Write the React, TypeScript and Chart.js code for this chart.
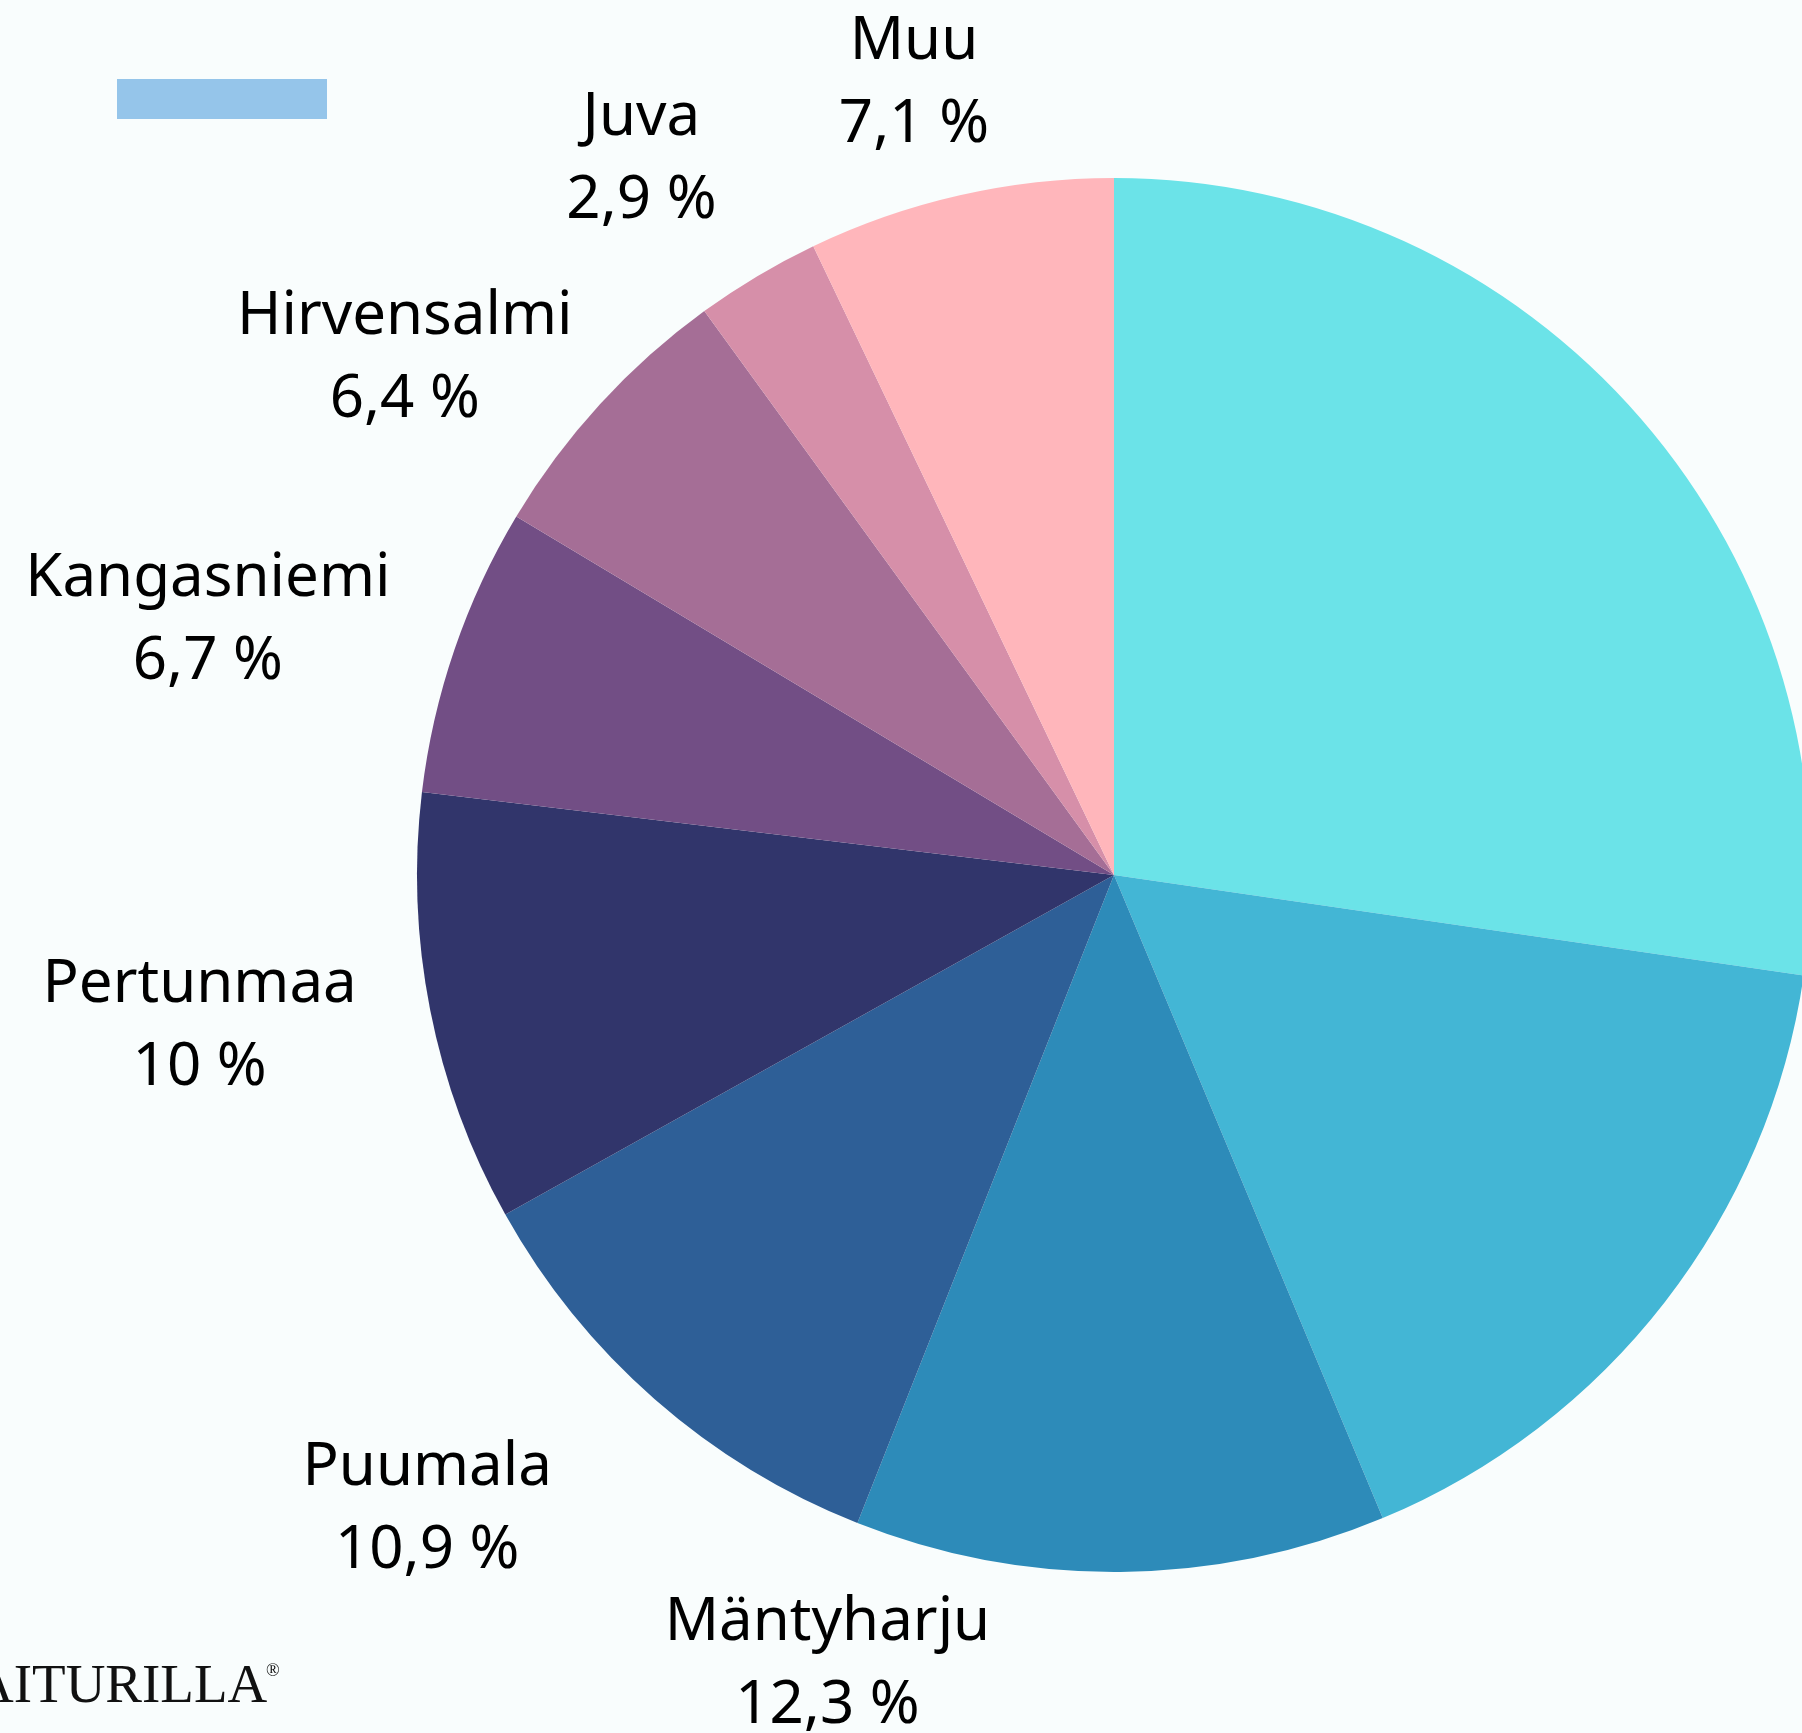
import React, { useEffect, useRef } from "react";
import { Chart, registerables } from "chart.js";

Chart.register(...registerables);

// ---- data ----
const categories = ["", "", "Mäntyharju", "Puumala", "Pertunmaa", "Kangasniemi", "Hirvensalmi", "Juva", "Muu"];
const shares = [27.3, 16.4, 12.3, 10.9, 10, 6.7, 6.4, 2.9, 7.1];
const sliceColors = ["#6be3e8", "#43b6d5", "#2d8bb9", "#2e5f97", "#31356b", "#724e85", "#a56e96", "#d68fa9", "#ffb6bb"];

// ---- label layout (angle shift in degrees, distance as multiple of radius) ----
const labelShiftDeg = [0, 0, 20.1, 5.3, 0.7, -4.2, -7.3, -3.3, -1.7];
const labelRadiusFactor = [1.2, 1.2, 1.228, 1.358, 1.334, 1.344, 1.245, 1.21, 1.148];

const BG = "#f9fdfd";
const PAGE_W = 1802;
const PAGE_H = 1733;
const CANVAS_W = 2228;
const CANVAS_H = 1750;

const fmt = (v: number) => String(v).replace(".", ",") + " %";

const overlayPlugin = {
  id: "overlay",
  beforeDraw(chart: any) {
    const ctx = chart.ctx;
    ctx.save();
    ctx.fillStyle = BG;
    ctx.fillRect(0, 0, chart.width, chart.height);
    ctx.restore();
  },
  afterDatasetsDraw(chart: any) {
    const ctx = chart.ctx;
    const meta = chart.getDatasetMeta(0);
    ctx.save();
    ctx.fillStyle = "#000000";
    ctx.textAlign = "center";
    ctx.textBaseline = "alphabetic";
    ctx.font = '60px "Noto Sans", "Open Sans", sans-serif';
    meta.data.forEach((arc: any, i: number) => {
      if (!categories[i]) return;
      const p = arc.getProps(["x", "y", "startAngle", "endAngle", "outerRadius"], true);
      const mid = (p.startAngle + p.endAngle) / 2 + (labelShiftDeg[i] * Math.PI) / 180;
      const r = p.outerRadius * labelRadiusFactor[i];
      const lx = p.x + Math.cos(mid) * r;
      const ly = p.y + Math.sin(mid) * r;
      ctx.fillText(categories[i], lx, ly - 41.5);
      ctx.fillText(fmt(shares[i]), lx, ly + 41.5);
    });

    // legend swatch (top-left)
    ctx.fillStyle = "#95c5ea";
    ctx.fillRect(117, 79, 210, 40);

    // watermark
    ctx.fillStyle = "#111111";
    ctx.textAlign = "left";
    ctx.font = '55px "Liberation Serif", "DejaVu Serif", serif';
    ctx.fillText("AITURILLA", -26, 1702);
    ctx.font = '18px "Liberation Serif", "DejaVu Serif", serif';
    ctx.fillText("®", 266, 1676);
    ctx.restore();
  },
};

export default function App() {
  const canvasRef = useRef<HTMLCanvasElement | null>(null);

  useEffect(() => {
    document.body.style.margin = "0";
    document.body.style.background = BG;
    const canvas = canvasRef.current;
    if (!canvas) return;
    const chart = new Chart(canvas, {
      type: "pie",
      data: {
        labels: categories,
        datasets: [
          {
            data: shares,
            backgroundColor: sliceColors,
            borderWidth: 0,
            hoverOffset: 0,
            offset: 0,
          },
        ],
      },
      options: {
        responsive: false,
        animation: false,
        events: [],
        layout: { padding: { top: 178, bottom: 178, left: 0, right: 0 } },
        plugins: {
          legend: { display: false },
          tooltip: { enabled: false },
        },
      },
      plugins: [overlayPlugin],
    } as any);
    return () => chart.destroy();
  }, []);

  return (
    <div style={{ width: PAGE_W, height: PAGE_H, overflow: "hidden", position: "relative", background: BG }}>
      <canvas
        ref={canvasRef}
        width={CANVAS_W}
        height={CANVAS_H}
        style={{ display: "block", width: CANVAS_W, height: CANVAS_H }}
      />
    </div>
  );
}
